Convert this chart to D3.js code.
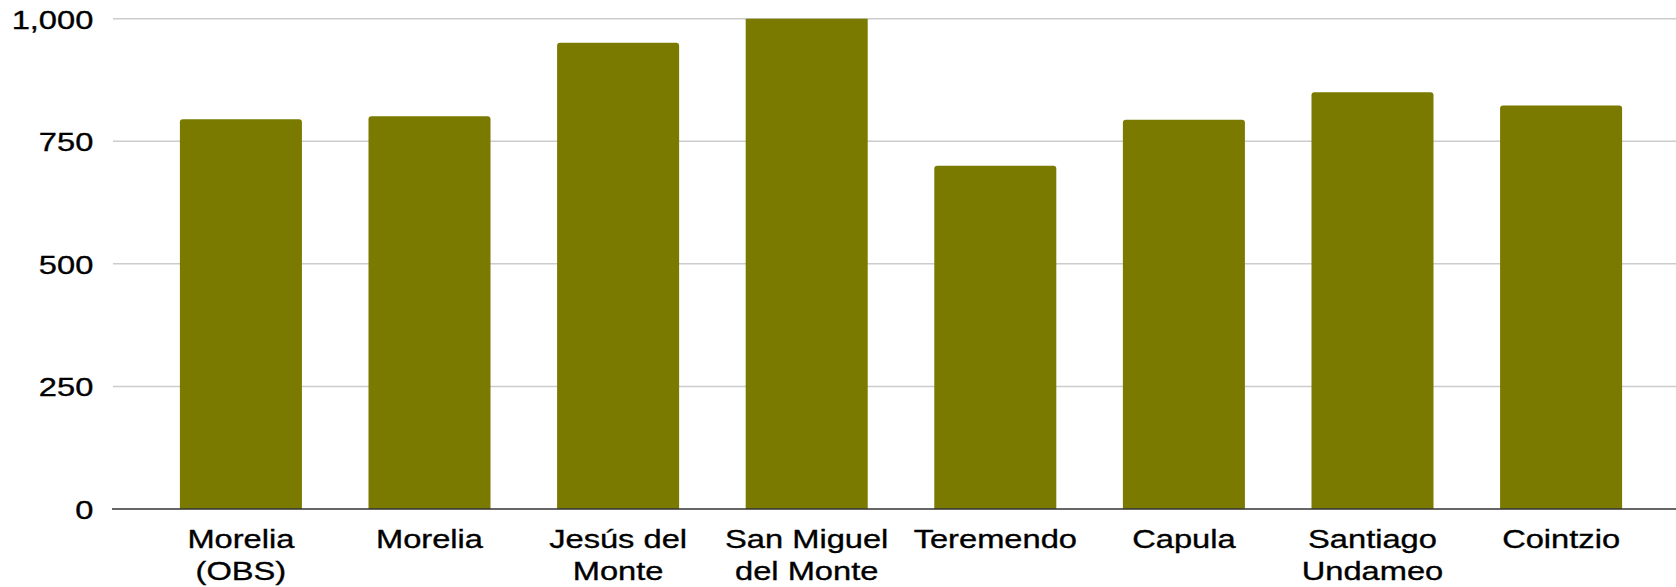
<!DOCTYPE html>
<html lang="es">
<head>
    <meta charset="utf-8">
    <title>Bar Chart</title>
    <style>
        body { margin: 0; background: #fff; }
        text { font-family: "Liberation Sans", Arial, sans-serif; fill: #000; stroke: #000; stroke-width: 0.35px; }
    </style>
</head>
<body>

<div id="bar-chart" style="width:1676px; height:587px"></div>

<script src="https://d3js.org/d3.v7.min.js"></script>

<script type="text/javascript">

    // data
    var categories = ["Morelia (OBS)", "Morelia", "Jesús del Monte", "San Miguel del Monte",
        "Teremendo", "Capula", "Santiago Undameo", "Cointzio"];
    var labelLines = [["Morelia", "(OBS)"], ["Morelia"], ["Jesús del", "Monte"], ["San Miguel", "del Monte"],
        ["Teremendo"], ["Capula"], ["Santiago", "Undameo"], ["Cointzio"]];
    var values = [795, 801, 951, 1000, 700, 794, 850, 823];
    var yTicks = [0, 250, 500, 750, 1000];

    var fullWidth = 1676,
        fullHeight = 587;
    var margin = {left: 112, top: 18.7, bottom: 78};
    var height = fullHeight - margin.top - margin.bottom;
    var stretch = 1.256;   // labels in the picture are drawn wide

    var svg = d3.select("#bar-chart")
        .append("svg")
        .attr("width", fullWidth)
        .attr("height", fullHeight)
        .append("g")
        .attr("transform", "translate(" + margin.left + "," + margin.top + ")");

    var x = d3.scaleBand()
        .domain(categories)
        .range([0, 1578])
        .paddingInner(0.353)
        .paddingOuter(0.36);

    var y = d3.scaleLinear()
        .domain([0, 1000])
        .range([height, 0]);

    // gridlines
    svg.append("g")
        .selectAll("line")
        .data(yTicks.filter(function (d) { return d > 0; }))
        .enter().append("line")
        .attr("x1", 1)
        .attr("x2", fullWidth - margin.left)
        .attr("y1", function (d) { return y(d); })
        .attr("y2", function (d) { return y(d); })
        .style("stroke", "#cccccc")
        .style("stroke-width", "1.5");

    // y axis labels
    var yAxis = svg.append("g")
        .call(d3.axisLeft(y).tickValues(yTicks).tickFormat(d3.format(",")).tickSize(0).tickPadding(0));
    yAxis.select(".domain").remove();
    yAxis.selectAll("text")
        .attr("x", -18.7 / stretch)
        .attr("dy", "0.36em")
        .attr("transform", "scale(" + stretch + ",1)")
        .style("font-size", "26px")
        .style("font-family", "'Liberation Sans', Arial, sans-serif")
        .style("fill", "#000");

    // bars, top corners rounded unless clipped at the top of the scale
    var r = 3;
    svg.append("g")
        .selectAll("path")
        .data(values)
        .enter().append("path")
        .attr("d", function (d, i) {
            var x0 = x(categories[i]), w = x.bandwidth(), y0 = y(d), b = y(0);
            if (d >= y.domain()[1]) {
                return "M" + x0 + "," + b + "V" + y0 + "H" + (x0 + w) + "V" + b + "Z";
            }
            return "M" + x0 + "," + b +
                "V" + (y0 + r) +
                "Q" + x0 + "," + y0 + " " + (x0 + r) + "," + y0 +
                "H" + (x0 + w - r) +
                "Q" + (x0 + w) + "," + y0 + " " + (x0 + w) + "," + (y0 + r) +
                "V" + b + "Z";
        })
        .style("fill", "#7a7a00");

    // baseline
    svg.append("line")
        .attr("x1", 0)
        .attr("x2", fullWidth - margin.left)
        .attr("y1", y(0))
        .attr("y2", y(0))
        .style("stroke", "#333333")
        .style("stroke-width", "1.5");

    // x labels
    var xLabels = svg.append("g")
        .selectAll("text")
        .data(categories)
        .enter().append("text")
        .attr("text-anchor", "middle")
        .attr("transform", function (d) {
            return "translate(" + (x(d) + x.bandwidth() / 2) + "," + (y(0) + 39) + ") scale(" + stretch + ",1)";
        })
        .style("font-size", "26px");

    xLabels.selectAll("tspan")
        .data(function (d, i) { return labelLines[i]; })
        .enter().append("tspan")
        .attr("x", 0)
        .attr("y", function (d, j) { return j * 32; })
        .text(function (d) { return d; });

</script>
</body>
</html>
